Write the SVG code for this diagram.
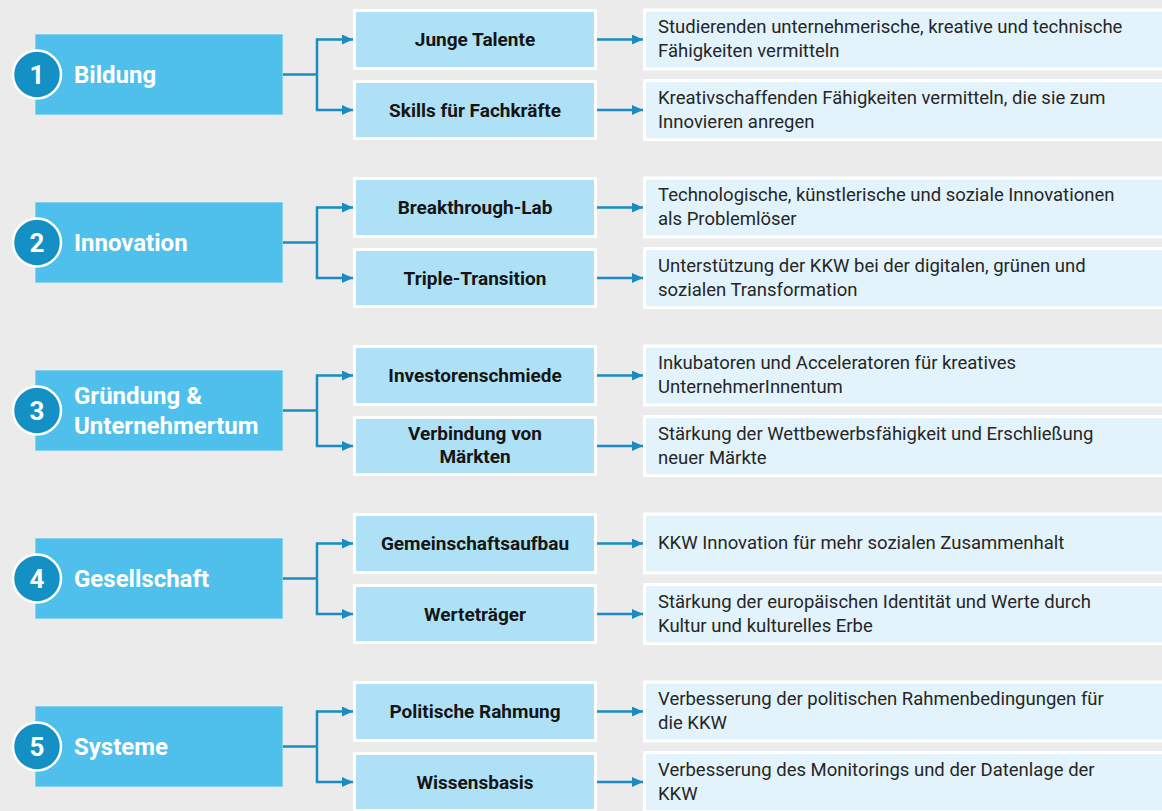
<svg xmlns="http://www.w3.org/2000/svg" width="1162" height="811" viewBox="0 0 1162 811">
<defs>
<style>
.bg{fill:#EBEBEB}
.main{fill:#4FC0EC;stroke:#86D2F0;stroke-width:1}
.circ{fill:#1590C4;stroke:#FFFFFF;stroke-width:2.5}
.num{font-family:Roboto,"Liberation Sans",sans-serif;font-weight:700;font-size:26px;fill:#FFFFFF;text-anchor:middle}
.mt{font-family:Roboto,"Liberation Sans",sans-serif;font-weight:700;font-size:24px;fill:#FFFFFF}
.mid{fill:#AEE1F5;stroke:#FFFFFF;stroke-width:3}
.midt{font-family:Roboto,"Liberation Sans",sans-serif;font-weight:700;font-size:19px;fill:#151515;text-anchor:middle}
.rbox{fill:#E3F3FB;stroke:#FFFFFF;stroke-width:3}
.rt{font-family:Roboto,"Liberation Sans",sans-serif;font-size:18.5px;fill:#262626}
.con{fill:none;stroke:#1A8CC2;stroke-width:2.5}
</style>
<marker id="ah" markerUnits="userSpaceOnUse" markerWidth="11" markerHeight="10" refX="11" refY="5" orient="auto">
<polygon points="0,0 11,5 0,10" fill="#1A8CC2"/>
</marker>
</defs>
<rect class="bg" x="0" y="0" width="1162" height="811"/>

<g id="connectors">
<path class="con" d="M283,74.5 H317"/>
<path class="con" d="M317,74.5 V39.5 H353" marker-end="url(#ah)"/>
<path class="con" d="M317,74.5 V110 H353" marker-end="url(#ah)"/>
<path class="con" d="M597,39.5 H643" marker-end="url(#ah)"/>
<path class="con" d="M597,110 H643" marker-end="url(#ah)"/>

<path class="con" d="M283,242.5 H317"/>
<path class="con" d="M317,242.5 V207.5 H353" marker-end="url(#ah)"/>
<path class="con" d="M317,242.5 V278 H353" marker-end="url(#ah)"/>
<path class="con" d="M597,207.5 H643" marker-end="url(#ah)"/>
<path class="con" d="M597,278 H643" marker-end="url(#ah)"/>

<path class="con" d="M283,410.5 H317"/>
<path class="con" d="M317,410.5 V375.5 H353" marker-end="url(#ah)"/>
<path class="con" d="M317,410.5 V446 H353" marker-end="url(#ah)"/>
<path class="con" d="M597,375.5 H643" marker-end="url(#ah)"/>
<path class="con" d="M597,446 H643" marker-end="url(#ah)"/>

<path class="con" d="M283,578.5 H317"/>
<path class="con" d="M317,578.5 V543.5 H353" marker-end="url(#ah)"/>
<path class="con" d="M317,578.5 V614 H353" marker-end="url(#ah)"/>
<path class="con" d="M597,543.5 H643" marker-end="url(#ah)"/>
<path class="con" d="M597,614 H643" marker-end="url(#ah)"/>

<path class="con" d="M283,746.5 H317"/>
<path class="con" d="M317,746.5 V711.5 H353" marker-end="url(#ah)"/>
<path class="con" d="M317,746.5 V782 H353" marker-end="url(#ah)"/>
<path class="con" d="M597,711.5 H643" marker-end="url(#ah)"/>
<path class="con" d="M597,782 H643" marker-end="url(#ah)"/>
</g>

<!-- Group 1 -->
<g id="main1">
<rect class="main" x="35.5" y="34.5" width="247" height="80"/>
<circle class="circ" cx="37" cy="74.5" r="24"/>
<text class="num" x="37" y="84">1</text>
<text class="mt" x="74" y="83">Bildung</text>
</g>
<g id="mid1a"><rect class="mid" x="354.5" y="10.5" width="241" height="58"/><text class="midt" x="475" y="46">Junge Talente</text></g>
<g id="mid1b"><rect class="mid" x="354.5" y="81.5" width="241" height="57"/><text class="midt" x="475" y="116.5">Skills für Fachkräfte</text></g>
<g id="r1a"><rect class="rbox" x="644.5" y="10" width="530" height="59"/><text class="rt" x="658" y="33">Studierenden unternehmerische, kreative und technische</text><text class="rt" x="658" y="57">Fähigkeiten vermitteln</text></g>
<g id="r1b"><rect class="rbox" x="644.5" y="80.5" width="530" height="59"/><text class="rt" x="658" y="104">Kreativschaffenden Fähigkeiten vermitteln, die sie zum</text><text class="rt" x="658" y="128">Innovieren anregen</text></g>

<!-- Group 2 -->
<g id="main2">
<rect class="main" x="35.5" y="202.5" width="247" height="80"/>
<circle class="circ" cx="37" cy="242.5" r="24"/>
<text class="num" x="37" y="252">2</text>
<text class="mt" x="74" y="251">Innovation</text>
</g>
<g id="mid2a"><rect class="mid" x="354.5" y="178.5" width="241" height="58"/><text class="midt" x="475" y="214">Breakthrough-Lab</text></g>
<g id="mid2b"><rect class="mid" x="354.5" y="249.5" width="241" height="57"/><text class="midt" x="475" y="284.5">Triple-Transition</text></g>
<g id="r2a"><rect class="rbox" x="644.5" y="178" width="530" height="59"/><text class="rt" x="658" y="201">Technologische, künstlerische und soziale Innovationen</text><text class="rt" x="658" y="225">als Problemlöser</text></g>
<g id="r2b"><rect class="rbox" x="644.5" y="248.5" width="530" height="59"/><text class="rt" x="658" y="272">Unterstützung der KKW bei der digitalen, grünen und</text><text class="rt" x="658" y="296">sozialen Transformation</text></g>

<!-- Group 3 -->
<g id="main3">
<rect class="main" x="35.5" y="370.5" width="247" height="80"/>
<circle class="circ" cx="37" cy="410.5" r="24"/>
<text class="num" x="37" y="420">3</text>
<text class="mt" x="74" y="404">Gründung &amp;</text>
<text class="mt" x="74" y="434">Unternehmertum</text>
</g>
<g id="mid3a"><rect class="mid" x="354.5" y="346.5" width="241" height="58"/><text class="midt" x="475" y="382">Investorenschmiede</text></g>
<g id="mid3b"><rect class="mid" x="354.5" y="417.5" width="241" height="57"/><text class="midt" x="475" y="440">Verbindung von</text><text class="midt" x="475" y="463">Märkten</text></g>
<g id="r3a"><rect class="rbox" x="644.5" y="346" width="530" height="59"/><text class="rt" x="658" y="369">Inkubatoren und Acceleratoren für kreatives</text><text class="rt" x="658" y="393">UnternehmerInnentum</text></g>
<g id="r3b"><rect class="rbox" x="644.5" y="416.5" width="530" height="59"/><text class="rt" x="658" y="440">Stärkung der Wettbewerbsfähigkeit und Erschließung</text><text class="rt" x="658" y="464">neuer Märkte</text></g>

<!-- Group 4 -->
<g id="main4">
<rect class="main" x="35.5" y="538.5" width="247" height="80"/>
<circle class="circ" cx="37" cy="578.5" r="24"/>
<text class="num" x="37" y="588">4</text>
<text class="mt" x="74" y="587">Gesellschaft</text>
</g>
<g id="mid4a"><rect class="mid" x="354.5" y="514.5" width="241" height="58"/><text class="midt" x="475" y="550">Gemeinschaftsaufbau</text></g>
<g id="mid4b"><rect class="mid" x="354.5" y="585.5" width="241" height="57"/><text class="midt" x="475" y="620.5">Werteträger</text></g>
<g id="r4a"><rect class="rbox" x="644.5" y="514" width="530" height="59"/><text class="rt" x="658" y="549">KKW Innovation für mehr sozialen Zusammenhalt</text></g>
<g id="r4b"><rect class="rbox" x="644.5" y="584.5" width="530" height="59"/><text class="rt" x="658" y="608">Stärkung der europäischen Identität und Werte durch</text><text class="rt" x="658" y="632">Kultur und kulturelles Erbe</text></g>

<!-- Group 5 -->
<g id="main5">
<rect class="main" x="35.5" y="706.5" width="247" height="80"/>
<circle class="circ" cx="37" cy="746.5" r="24"/>
<text class="num" x="37" y="756">5</text>
<text class="mt" x="74" y="755">Systeme</text>
</g>
<g id="mid5a"><rect class="mid" x="354.5" y="682.5" width="241" height="58"/><text class="midt" x="475" y="718">Politische Rahmung</text></g>
<g id="mid5b"><rect class="mid" x="354.5" y="753.5" width="241" height="57"/><text class="midt" x="475" y="788.5">Wissensbasis</text></g>
<g id="r5a"><rect class="rbox" x="644.5" y="682" width="530" height="59"/><text class="rt" x="658" y="705">Verbesserung der politischen Rahmenbedingungen für</text><text class="rt" x="658" y="729">die KKW</text></g>
<g id="r5b"><rect class="rbox" x="644.5" y="752.5" width="530" height="59"/><text class="rt" x="658" y="776">Verbesserung des Monitorings und der Datenlage der</text><text class="rt" x="658" y="800">KKW</text></g>
</svg>
